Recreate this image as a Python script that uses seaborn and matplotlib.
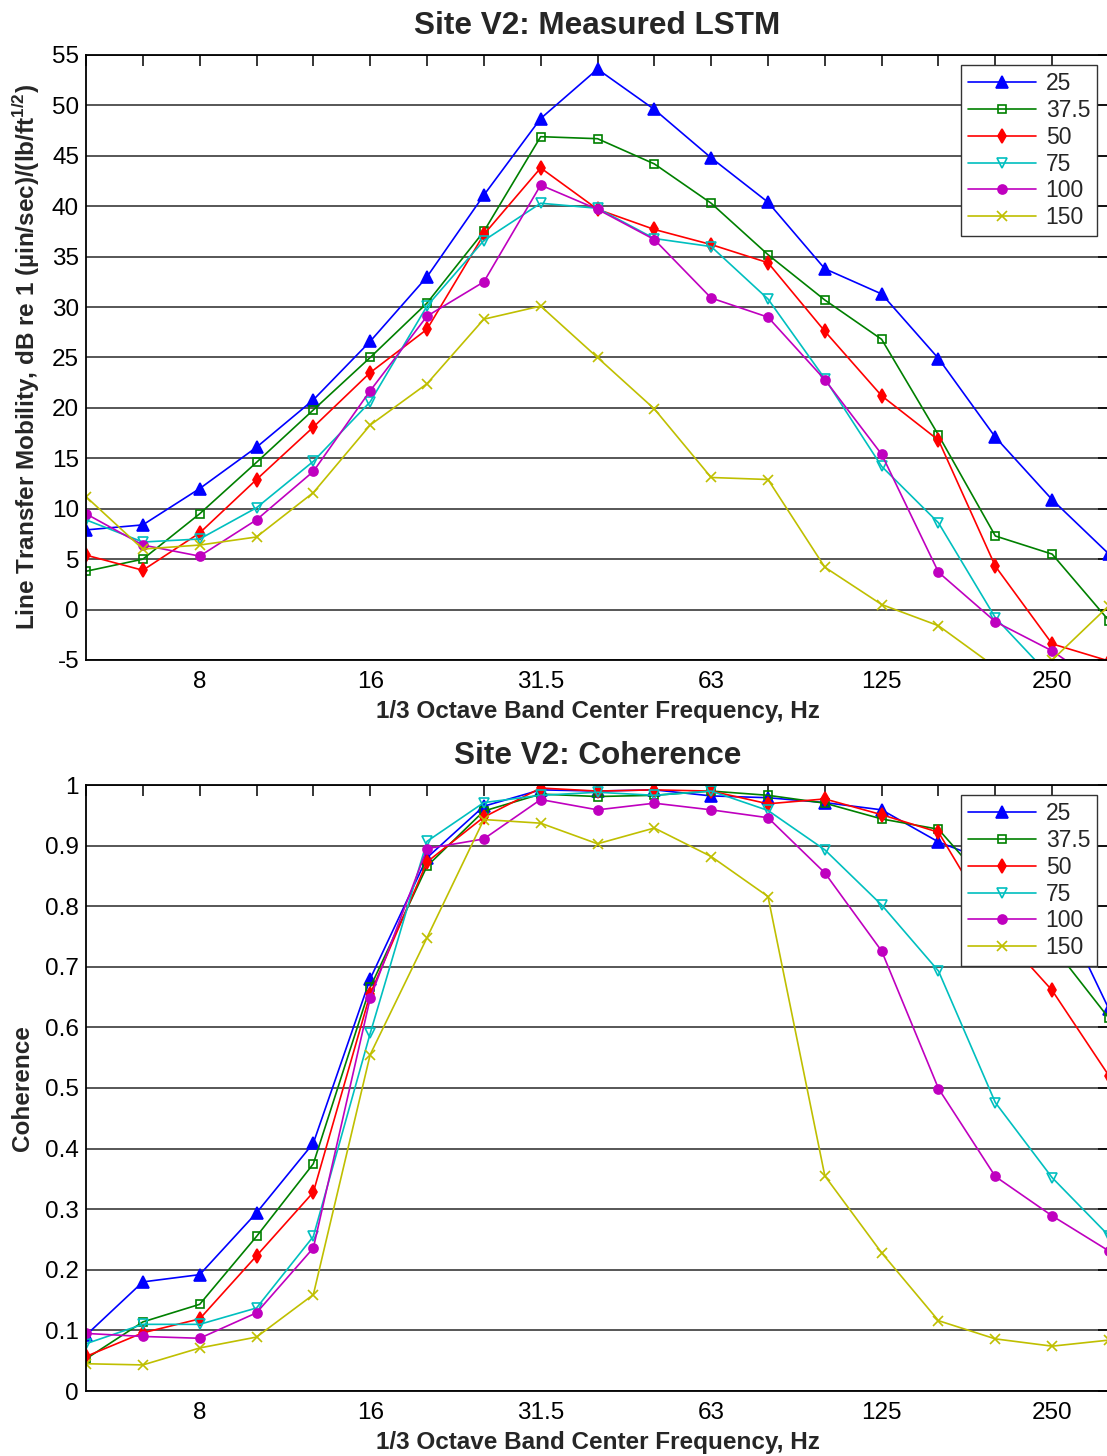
import numpy as np
import matplotlib
matplotlib.use('Agg')
import matplotlib.pyplot as plt
import seaborn as sns

# 1/3 octave band centres (Hz) and the labelled octave bands
bands = ['5', '6.3', '8', '10', '12.5', '16', '20', '25', '31.5', '40',
         '50', '63', '80', '100', '125', '160', '200', '250', '315']
octave_labels = ['8', '16', '31.5', '63', '125', '250']
offsets = ['25', '37.5', '50', '75', '100', '150']

# measured line transfer mobility, dB
lstm_25 = [7.9, 8.4, 12.0, 16.1, 20.8, 26.6, 33.0, 41.1, 48.7, 53.6,
           49.6, 44.8, 40.4, 33.8, 31.3, 24.9, 17.1, 10.9, 5.5]
lstm_37 = [3.8, 5.0, 9.5, 14.6, 19.8, 25.0, 30.4, 37.5, 46.9, 46.7,
           44.2, 40.3, 35.2, 30.7, 26.8, 17.3, 7.3, 5.5, -1.1]
lstm_50 = [5.4, 3.9, 7.6, 12.9, 18.1, 23.5, 27.8, 37.2, 43.8, 39.7,
           37.7, 36.2, 34.4, 27.6, 21.2, 16.8, 4.3, -3.4, -5.1]
lstm_75 = [8.9, 6.7, 7.0, 10.1, 14.7, 20.6, 30.1, 36.6, 40.3, 39.8,
           36.8, 36.0, 30.8, 22.9, 14.2, 8.6, -0.8, -6.8, -11.0]
lstm_100 = [9.5, 6.4, 5.3, 8.9, 13.7, 21.7, 29.1, 32.5, 42.1, 39.7,
            36.7, 30.9, 29.0, 22.8, 15.4, 3.7, -1.2, -4.1, -8.0]
lstm_150 = [11.2, 6.0, 6.4, 7.2, 11.6, 18.3, 22.4, 28.8, 30.1, 25.0,
            19.9, 13.1, 12.9, 4.2, 0.5, -1.6, -5.7, -5.0, 0.4]

# coherence
coh_25 = [0.092, 0.180, 0.192, 0.294, 0.409, 0.680, 0.880, 0.965, 0.992, 0.990,
          0.992, 0.982, 0.979, 0.971, 0.959, 0.906, 0.870, 0.826, 0.630]
coh_37 = [0.053, 0.114, 0.143, 0.255, 0.375, 0.666, 0.866, 0.957, 0.985, 0.981,
          0.983, 0.990, 0.983, 0.970, 0.944, 0.927, 0.820, 0.735, 0.615]
coh_50 = [0.057, 0.096, 0.119, 0.223, 0.328, 0.655, 0.873, 0.947, 0.995, 0.990,
          0.992, 0.990, 0.969, 0.977, 0.951, 0.922, 0.765, 0.661, 0.520]
coh_75 = [0.078, 0.110, 0.110, 0.137, 0.255, 0.590, 0.907, 0.971, 0.983, 0.988,
          0.983, 0.990, 0.958, 0.893, 0.802, 0.693, 0.476, 0.352, 0.256]
coh_100 = [0.095, 0.090, 0.087, 0.129, 0.236, 0.648, 0.895, 0.911, 0.976, 0.959,
           0.970, 0.959, 0.946, 0.855, 0.726, 0.499, 0.354, 0.289, 0.231]
coh_150 = [0.045, 0.043, 0.071, 0.089, 0.159, 0.555, 0.748, 0.943, 0.937, 0.903,
           0.929, 0.882, 0.816, 0.355, 0.228, 0.116, 0.086, 0.074, 0.084]

lstm = [lstm_25, lstm_37, lstm_50, lstm_75, lstm_100, lstm_150]
coh = [coh_25, coh_37, coh_50, coh_75, coh_100, coh_150]

colors = ['#0000ff', '#008000', '#ff0000', '#00bfbf', '#bf00bf', '#bfbf00']
markers = ['^', 's', 'd', 'v', 'o', 'x']
msizes = [8, 6, 7.5, 7.5, 6.5, 7.5]
filled = [True, False, True, False, True, True]

sns.set_style('white')
plt.rcParams['font.family'] = ['Liberation Sans', 'DejaVu Sans']
plt.rcParams['mathtext.fontset'] = 'custom'
plt.rcParams['mathtext.rm'] = 'Liberation Sans'
plt.rcParams['mathtext.bf'] = 'Liberation Sans:bold'

W, H = 1107, 1456
fig = plt.figure(figsize=(W / 100, H / 100), dpi=100)
ax1 = fig.add_axes([86 / W, 1 - 660 / H, (1109 - 86) / W, 605 / H])
ax2 = fig.add_axes([86 / W, 1 - 1391 / H, (1109 - 86) / W, 606 / H])

x = np.arange(len(bands))
xlabels = [b if b in octave_labels else '' for b in bands]


def draw(ax, series, title, ylabel, ylim, yticks, ylabels, leg_top, ylab_x):
    for vals, lab, c, m, ms, f in zip(series, offsets, colors, markers, msizes, filled):
        sns.lineplot(x=x, y=vals, ax=ax, color=c, marker=m, markersize=ms,
                     markerfacecolor=c if f else 'none', markeredgecolor=c,
                     markeredgewidth=1.2, linewidth=1.2, label=lab,
                     sort=False, errorbar=None)
    ax.set_xlim(0, len(bands) - 1)
    ax.set_ylim(*ylim)
    ax.set_xticks(x, xlabels)
    ax.set_yticks(yticks, ylabels)
    ax.tick_params(direction='in', length=8, width=1.1, top=True, right=True,
                   labelsize=17.5, pad=8, colors='black')
    ax.tick_params(axis='y', pad=5)
    ax.yaxis.grid(True, color='#3a3a3a', linewidth=1.2)
    ax.xaxis.grid(False)
    for sp in ax.spines.values():
        sp.set_color('black')
        sp.set_linewidth(1.3)
    ax.set_title(title, fontsize=22.7, fontweight='bold', pad=15)
    ax.set_xlabel('1/3 Octave Band Center Frequency, Hz', fontsize=17.5, fontweight='bold')
    ax.set_ylabel(ylabel, fontsize=17.5, fontweight='bold')
    ax.xaxis.set_label_coords(0.5, -0.066)
    ax.yaxis.set_label_coords(ylab_x, 0.5)
    leg = ax.legend(loc='upper right', bbox_to_anchor=(1097 / W, 1 - leg_top / H),
                    bbox_transform=fig.transFigure, borderaxespad=0, fontsize=16.5,
                    handlelength=3.0, handletextpad=0.4, labelspacing=0.17,
                    borderpad=0.3, fancybox=False, framealpha=1)
    leg.get_frame().set_edgecolor('#333333')
    leg.get_frame().set_linewidth(1.0)


draw(ax1, lstm, 'Site V2: Measured LSTM',
     r'Line Transfer Mobility, dB re 1 (µin/sec)/(lb/ft$^{\mathbf{1/2}}$)',
     (-5, 55), np.arange(-5, 56, 5), [str(v) for v in range(-5, 56, 5)], 65, -0.043)

coh_ticks = np.round(np.arange(0, 1.01, 0.1), 1)
coh_labels = ['0'] + ['%.1f' % v for v in coh_ticks[1:-1]] + ['1']
draw(ax2, coh, 'Site V2: Coherence', 'Coherence',
     (0, 1), coh_ticks, coh_labels, 795, -0.051)

fig.savefig('out.png', dpi=100)
